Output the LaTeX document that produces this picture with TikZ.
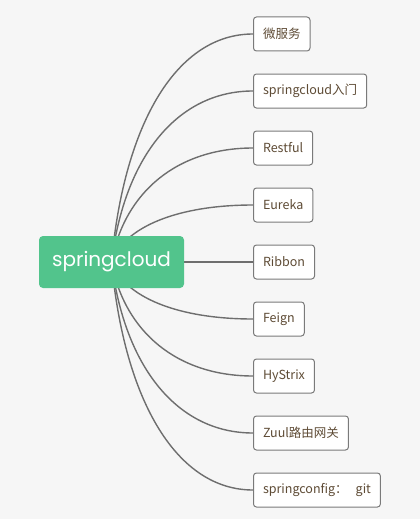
\documentclass[tikz,border=0pt]{standalone}
\usepackage{fontspec}
\newfontfamily\cjk{Noto Sans CJK SC}
\newfontfamily\rootfont{Poppins}
\definecolor{bgcol}{HTML}{F6F6F6}
\definecolor{rootcol}{HTML}{52C48C}
\definecolor{linkcol}{HTML}{6E6E6E}
\definecolor{txtcol}{HTML}{5E4B35}
\definecolor{boxline}{HTML}{7A7A7A}
\pgfdeclarelayer{bg}
\pgfdeclarelayer{edges}
\pgfsetlayers{bg,edges,main}
\begin{document}
\begin{tikzpicture}[x=1pt,y=-1pt,
  rootbox/.style={fill=rootcol, rounded corners=4pt, minimum width=145pt, minimum height=52pt,
    inner sep=0pt, text=white, font=\rootfont\fontsize{20}{24}\selectfont},
  childbox/.style={draw=boxline, line width=1pt, fill=white, rounded corners=3pt,
    minimum height=34pt, inner xsep=9.5pt, inner ysep=0pt, anchor=west, text=txtcol,
    font=\cjk\fontsize{12.5}{15}\selectfont},
  link/.style={draw=linkcol, line width=1.4pt}]
\begin{pgfonlayer}{bg}
\fill[bgcol] (0,0) rectangle (420,519);
\end{pgfonlayer}
\useasboundingbox (0,0) rectangle (420,519);
\node[rootbox] (root) at (111.5,262) {springcloud};
\foreach \n/\t/\y in {c1/微服务/34, c2/springcloud入门/91, c3/Restful/148, c4/Eureka/205,
  c6/Feign/319, c7/HyStrix/376, c8/Zuul路由网关/433, c9/{springconfig：\hspace{8pt}git}/490}{
  \node[childbox] (\n) at (253,\y) {\t};
  \pgfmathsetmacro{\dy}{0.62*(\y-262)}
  \begin{pgfonlayer}{edges}
  \draw[link] (root.center) .. controls +(13,\dy) and +(-75,0) .. (\n.west);
  \end{pgfonlayer}
}
\node[childbox] (c5) at (253,262) {Ribbon};
\begin{pgfonlayer}{edges}
\draw[link] (root.east) -- (c5.west);
\end{pgfonlayer}
\end{tikzpicture}
\end{document}
